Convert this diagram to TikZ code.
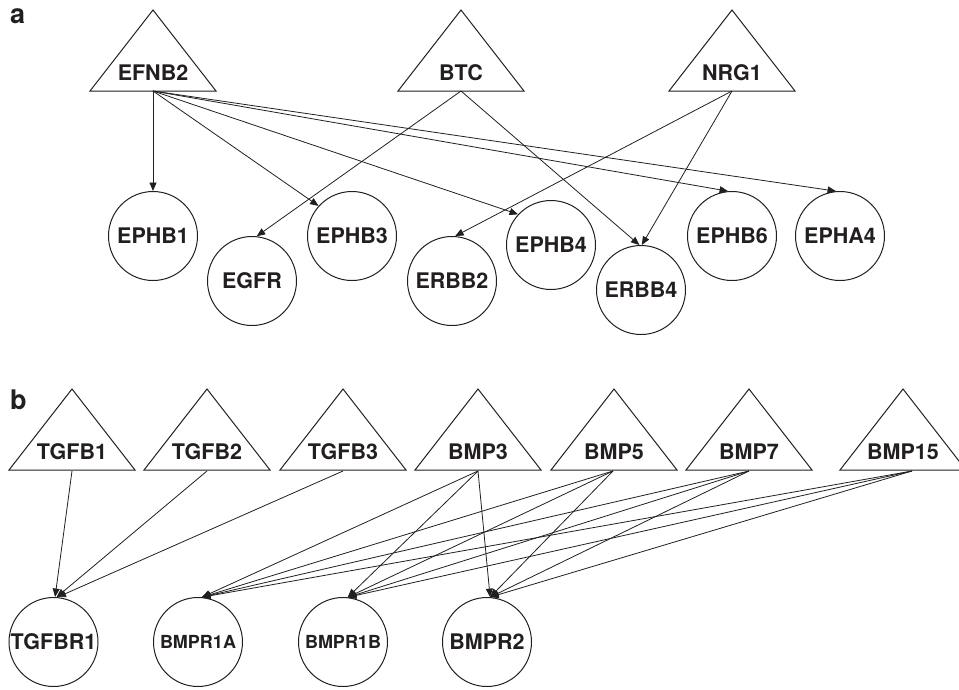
\documentclass[tikz,border=0pt]{standalone}
\usepackage{fontspec}
\setmainfont{TeX Gyre Heros}
\usetikzlibrary{arrows.meta}
\definecolor{ink}{HTML}{231F20}
\tikzset{
  shapeline/.style={draw=ink, line width=1pt},
  lbl/.style={font=\fontsize{21.5}{21.5}\selectfont\bfseries, text=ink, inner sep=0pt},
  smalllbl/.style={font=\fontsize{18}{18}\selectfont\bfseries, text=ink, inner sep=0pt},
  receptor/.style={circle, draw=ink, line width=1pt, minimum size=89pt, inner sep=0pt},
  edge/.style={draw=ink, line width=0.8pt, -{Triangle[length=8.5pt,width=7pt]}},
  panel/.style={font=\fontsize{27}{27}\selectfont\bfseries, text=ink, inner sep=0pt, anchor=base west}
}
% #1 name, #2 apex x, #3 apex y, #4 text
\newcommand{\ligandtri}[4]{%
  \draw[shapeline] ({#2-63},{#3+81}) -- ({#2},{#3}) -- ({#2+63},{#3+81}) -- cycle;
  \node[lbl] (#1) at ({#2},{#3+62.5}) {#4};
}
\begin{document}
\begin{tikzpicture}[x=1pt,y=-1pt]
\useasboundingbox (0,0) rectangle (959,689);

% ---------- panel a ----------
\node[panel] (pa) at (10,23) {a};
\ligandtri{EFNBtwo}{153}{10}{EFNB2}
\ligandtri{BTC}{461}{10}{BTC}
\ligandtri{NRGone}{732}{10}{NRG1}
\coordinate (EFNBtwob) at (153,91);
\coordinate (BTCb) at (461,91);
\coordinate (NRGoneb) at (732,91);

\node[receptor] (EPHBone) at (153,236) {};
\node[lbl] at (EPHBone) {EPHB1};
\node[receptor] (EGFR) at (252,281) {};
\node[lbl] at (EGFR) {EGFR};
\node[receptor] (EPHBthree) at (352,236) {};
\node[lbl] at (EPHBthree) {EPHB3};
\node[receptor] (ERBBtwo) at (452,281) {};
\node[lbl] at (ERBBtwo) {ERBB2};
\node[receptor] (EPHBfour) at (551,245) {};
\node[lbl] at (EPHBfour) {EPHB4};
\node[receptor] (ERBBfour) at (641,290) {};
\node[lbl] at (ERBBfour) {ERBB4};
\node[receptor] (EPHBsix) at (732,236) {};
\node[lbl] at (EPHBsix) {EPHB6};
\node[receptor] (EPHAfour) at (840,236) {};
\node[lbl] at (EPHAfour) {EPHA4};

\draw[edge] (EFNBtwob) -- (EPHBone.90);
\draw[edge] (EFNBtwob) -- (EPHBthree.138);
\draw[edge] (EFNBtwob) -- (EPHBfour.137);
\draw[edge] (EFNBtwob) -- (EPHBsix.95);
\draw[edge] (EFNBtwob) -- (EPHAfour.95);
\draw[edge] (BTCb) -- (EGFR.84);
\draw[edge] (BTCb) -- (ERBBfour.92);
\draw[edge] (NRGoneb) -- (ERBBtwo.86);
\draw[edge] (NRGoneb) -- (ERBBfour.89);

% ---------- panel b ----------
\node[panel] (pb) at (10,409) {b};
\ligandtri{TGFBone}{72}{389}{TGFB1}
\ligandtri{TGFBtwo}{207}{389}{TGFB2}
\ligandtri{TGFBthree}{343}{389}{TGFB3}
\ligandtri{BMPthree}{478}{389}{BMP3}
\ligandtri{BMPfive}{614}{389}{BMP5}
\ligandtri{BMPseven}{749}{389}{BMP7}
\ligandtri{BMPfifteen}{903}{389}{BMP15}
\coordinate (TGFBoneb) at (72,471);
\coordinate (TGFBtwob) at (207,471);
\coordinate (TGFBthreeb) at (343,471);
\coordinate (BMPthreeb) at (478,471);
\coordinate (BMPfiveb) at (613,471);
\coordinate (BMPsevenb) at (749,471);
\coordinate (BMPfifteenb) at (912,471);

\node[receptor] (TGFBRone) at (53.5,642) {};
\node[lbl] at (TGFBRone) {TGFBR1};
\node[receptor] (BMPRoneA) at (198,642) {};
\node[smalllbl] at (BMPRoneA) {BMPR1A};
\node[receptor] (BMPRoneB) at (343,642) {};
\node[smalllbl] at (BMPRoneB) {BMPR1B};
\node[receptor] (BMPRtwo) at (487,642) {};
\node[lbl] at (BMPRtwo) {BMPR2};

\draw[edge] (TGFBoneb) -- (TGFBRone.88);
\draw[edge] (TGFBtwob) -- (TGFBRone.86);
\draw[edge] (TGFBthreeb) -- (TGFBRone.85);
\foreach \s in {BMPthreeb,BMPfiveb,BMPsevenb,BMPfifteenb}{
  \draw[edge] (\s) -- (BMPRoneA.85);
  \draw[edge] (\s) -- (BMPRoneB.84);
  \draw[edge] (\s) -- (BMPRtwo.86);
}
\end{tikzpicture}
\end{document}
